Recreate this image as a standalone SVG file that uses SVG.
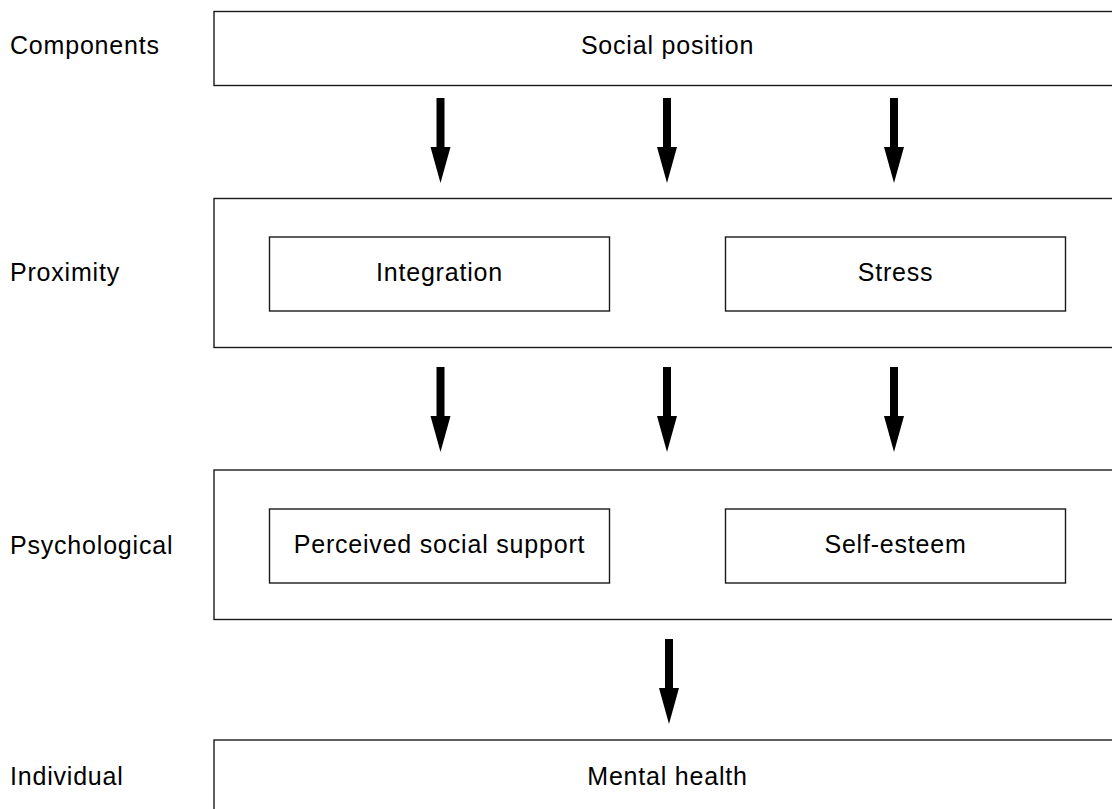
<svg xmlns="http://www.w3.org/2000/svg" xmlns:xlink="http://www.w3.org/1999/xlink" width="1112" height="809" viewBox="0 0 1112 809">
<style>
  .box { fill: #fff; stroke: #1a1a1a; stroke-width: 1.4; }
  .txt { font-family: "Liberation Sans", Arial, sans-serif; font-size: 25px; letter-spacing: 0.8px; fill: #000; }
  .mid { text-anchor: middle; }
  .arrow { fill: #000; stroke: none; }
</style>
<defs>
  <path id="arr" class="arrow" d="M-4,0 H4 V49 H10 L0,85 L-10,49 H-4 Z"/>
</defs>
<rect width="1112" height="809" fill="#fff"/>

<g id="labels">
  <text class="txt" x="10" y="54">Components</text>
  <text class="txt" x="10" y="281">Proximity</text>
  <text class="txt" x="10" y="554">Psychological</text>
  <text class="txt" x="10" y="785">Individual</text>
</g>

<g id="node-social-position">
  <rect class="box" x="214" y="11.5" width="910" height="74"/>
  <text class="txt mid" x="667.5" y="54">Social position</text>
</g>

<g id="node-proximity">
  <rect class="box" x="214" y="198.5" width="910" height="149"/>
</g>
<g id="node-integration">
  <rect class="box" x="269.5" y="237" width="340" height="74"/>
  <text class="txt mid" x="439.5" y="281">Integration</text>
</g>
<g id="node-stress">
  <rect class="box" x="725.5" y="237" width="340" height="74"/>
  <text class="txt mid" x="895.5" y="281">Stress</text>
</g>

<g id="node-psychological">
  <rect class="box" x="214" y="470" width="910" height="149.5"/>
</g>
<g id="node-perceived-social-support">
  <rect class="box" x="269.5" y="509" width="340" height="74"/>
  <text class="txt mid" x="439.5" y="553">Perceived social support</text>
</g>
<g id="node-self-esteem">
  <rect class="box" x="725.5" y="509" width="340" height="74"/>
  <text class="txt mid" x="895.5" y="553">Self-esteem</text>
</g>

<g id="node-mental-health">
  <rect class="box" x="214" y="740" width="910" height="100"/>
  <text class="txt mid" x="667.5" y="785">Mental health</text>
</g>

<g id="connectors">
  <use xlink:href="#arr" href="#arr" x="440.5" y="98"/>
  <use xlink:href="#arr" href="#arr" x="667" y="98"/>
  <use xlink:href="#arr" href="#arr" x="894" y="98"/>
  <use xlink:href="#arr" href="#arr" x="440.5" y="367"/>
  <use xlink:href="#arr" href="#arr" x="667" y="367"/>
  <use xlink:href="#arr" href="#arr" x="894" y="367"/>
  <use xlink:href="#arr" href="#arr" x="669" y="639"/>
</g>
</svg>
